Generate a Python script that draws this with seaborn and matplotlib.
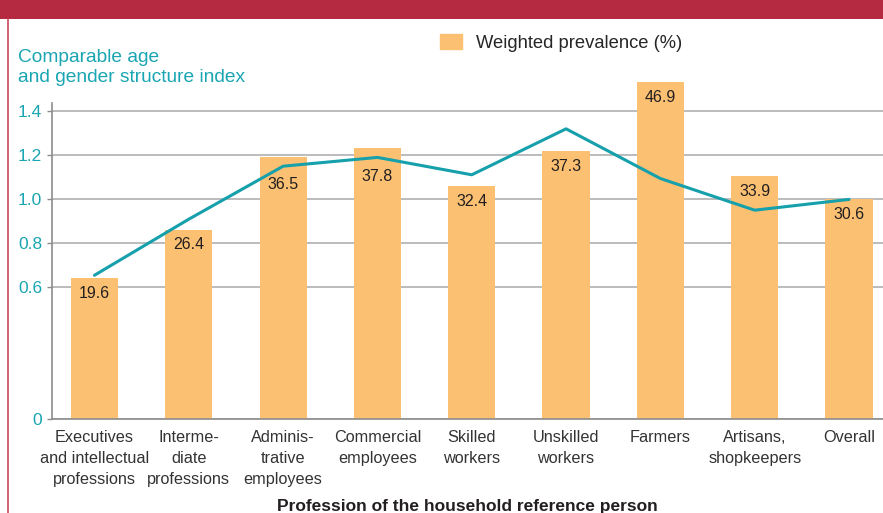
import numpy as np
import pandas as pd
import seaborn as sns
import matplotlib.pyplot as plt
from matplotlib.patches import Patch, Rectangle
from matplotlib.lines import Line2D

# data
categories = [
    "Executives\nand intellectual\nprofessions",
    "Interme-\ndiate\nprofessions",
    "Adminis-\ntrative\nemployees",
    "Commercial\nemployees",
    "Skilled\nworkers",
    "Unskilled\nworkers",
    "Farmers",
    "Artisans,\nshopkeepers",
    "Overall",
]
prevalence = [19.6, 26.4, 36.5, 37.8, 32.4, 37.3, 46.9, 33.9, 30.6]
age_gender_index = [0.655, 0.91, 1.151, 1.191, 1.112, 1.321, 1.095, 0.951, 1.0]
y_ticks = [0, 0.6, 0.8, 1.0, 1.2, 1.4]
y_tick_labels = ["0", "0.6", "0.8", "1.0", "1.2", "1.4"]

# bars are drawn as prevalence relative to the overall value
relative = np.array(prevalence) / prevalence[-1]

bar_color = "#fbc072"
line_color = "#16a0ab"
teal_text = "#1aa5b2"
red = "#b52a40"

sns.set_theme(style="white")
plt.rcParams["font.family"] = ["Liberation Sans", "DejaVu Sans"]

fig = plt.figure(figsize=(8.83, 5.13), dpi=100)
ax = fig.add_axes([0.0589, 0.1827, 0.9411, 0.6163])

df = pd.DataFrame({"profession": categories, "relative": relative})
sns.barplot(data=df, x="profession", y="relative", color=bar_color,
            width=0.5, saturation=1, ax=ax)
for p in ax.patches:
    p.set_clip_on(False)
    p.set_edgecolor("none")

sns.lineplot(x=np.arange(len(categories)), y=age_gender_index,
             color=line_color, lw=2.2, ax=ax)

ax.set_xlim(-0.45, 8.36)
ax.set_ylim(0, 1.438)
ax.set_yticks(y_ticks)
ax.set_yticklabels(y_tick_labels)
ax.yaxis.grid(True, color="#a9a9a9", lw=1.1)
ax.set_axisbelow(True)
ax.set_xlabel("")
ax.set_ylabel("")

for s in ["top", "right"]:
    ax.spines[s].set_visible(False)
for s in ["left", "bottom"]:
    ax.spines[s].set_color("#8c8c8c")
    ax.spines[s].set_linewidth(1.2)

ax.tick_params(axis="y", left=True, length=3.6, width=1, color="#8c8c8c",
               pad=3.5, labelsize=12.5, labelcolor=teal_text)
ax.tick_params(axis="x", bottom=False, pad=2, labelcolor="#333333")
for lab in ax.get_xticklabels():
    lab.set_fontsize(11.7)
    lab.set_linespacing(1.5)

# value labels, moved under the line where it crosses the bar top
for i, (h, v, ln) in enumerate(zip(relative, prevalence, age_gender_index)):
    y = h - 0.07
    if h > ln > h - 0.12:
        y = ln - 0.085
    ax.text(i, y, f"{v:.1f}", ha="center", va="center", fontsize=11.5,
            color="#231f20")

ax.legend(handles=[Patch(color=bar_color, label="Weighted prevalence (%)")],
          loc="center left", bbox_to_anchor=(440 / 883, 1 - 43 / 513),
          bbox_transform=fig.transFigure, frameon=False, fontsize=13.2,
          handlelength=1.2, handleheight=0.85, handletextpad=0.75,
          borderpad=0, borderaxespad=0)

fig.text(18 / 883, 1 - 67.5 / 513, "Comparable age\nand gender structure index",
         color=teal_text, fontsize=13.8, ha="left", va="center", linespacing=1.27)

fig.text(467.5 / 883, 1 - 511 / 513, "Profession of the household reference person",
         fontsize=12.5, weight="bold", color="#231f20", ha="center", va="baseline")

# red frame of the original figure
fig.add_artist(Rectangle((0, 1 - 18.5 / 513), 1, 18.5 / 513,
                         transform=fig.transFigure, color=red, lw=0))
fig.add_artist(Line2D([8 / 883, 8 / 883], [0, 1 - 18.5 / 513],
                      transform=fig.transFigure, color="#c9475c", lw=1.2))

fig.savefig("out.png", dpi=100)
